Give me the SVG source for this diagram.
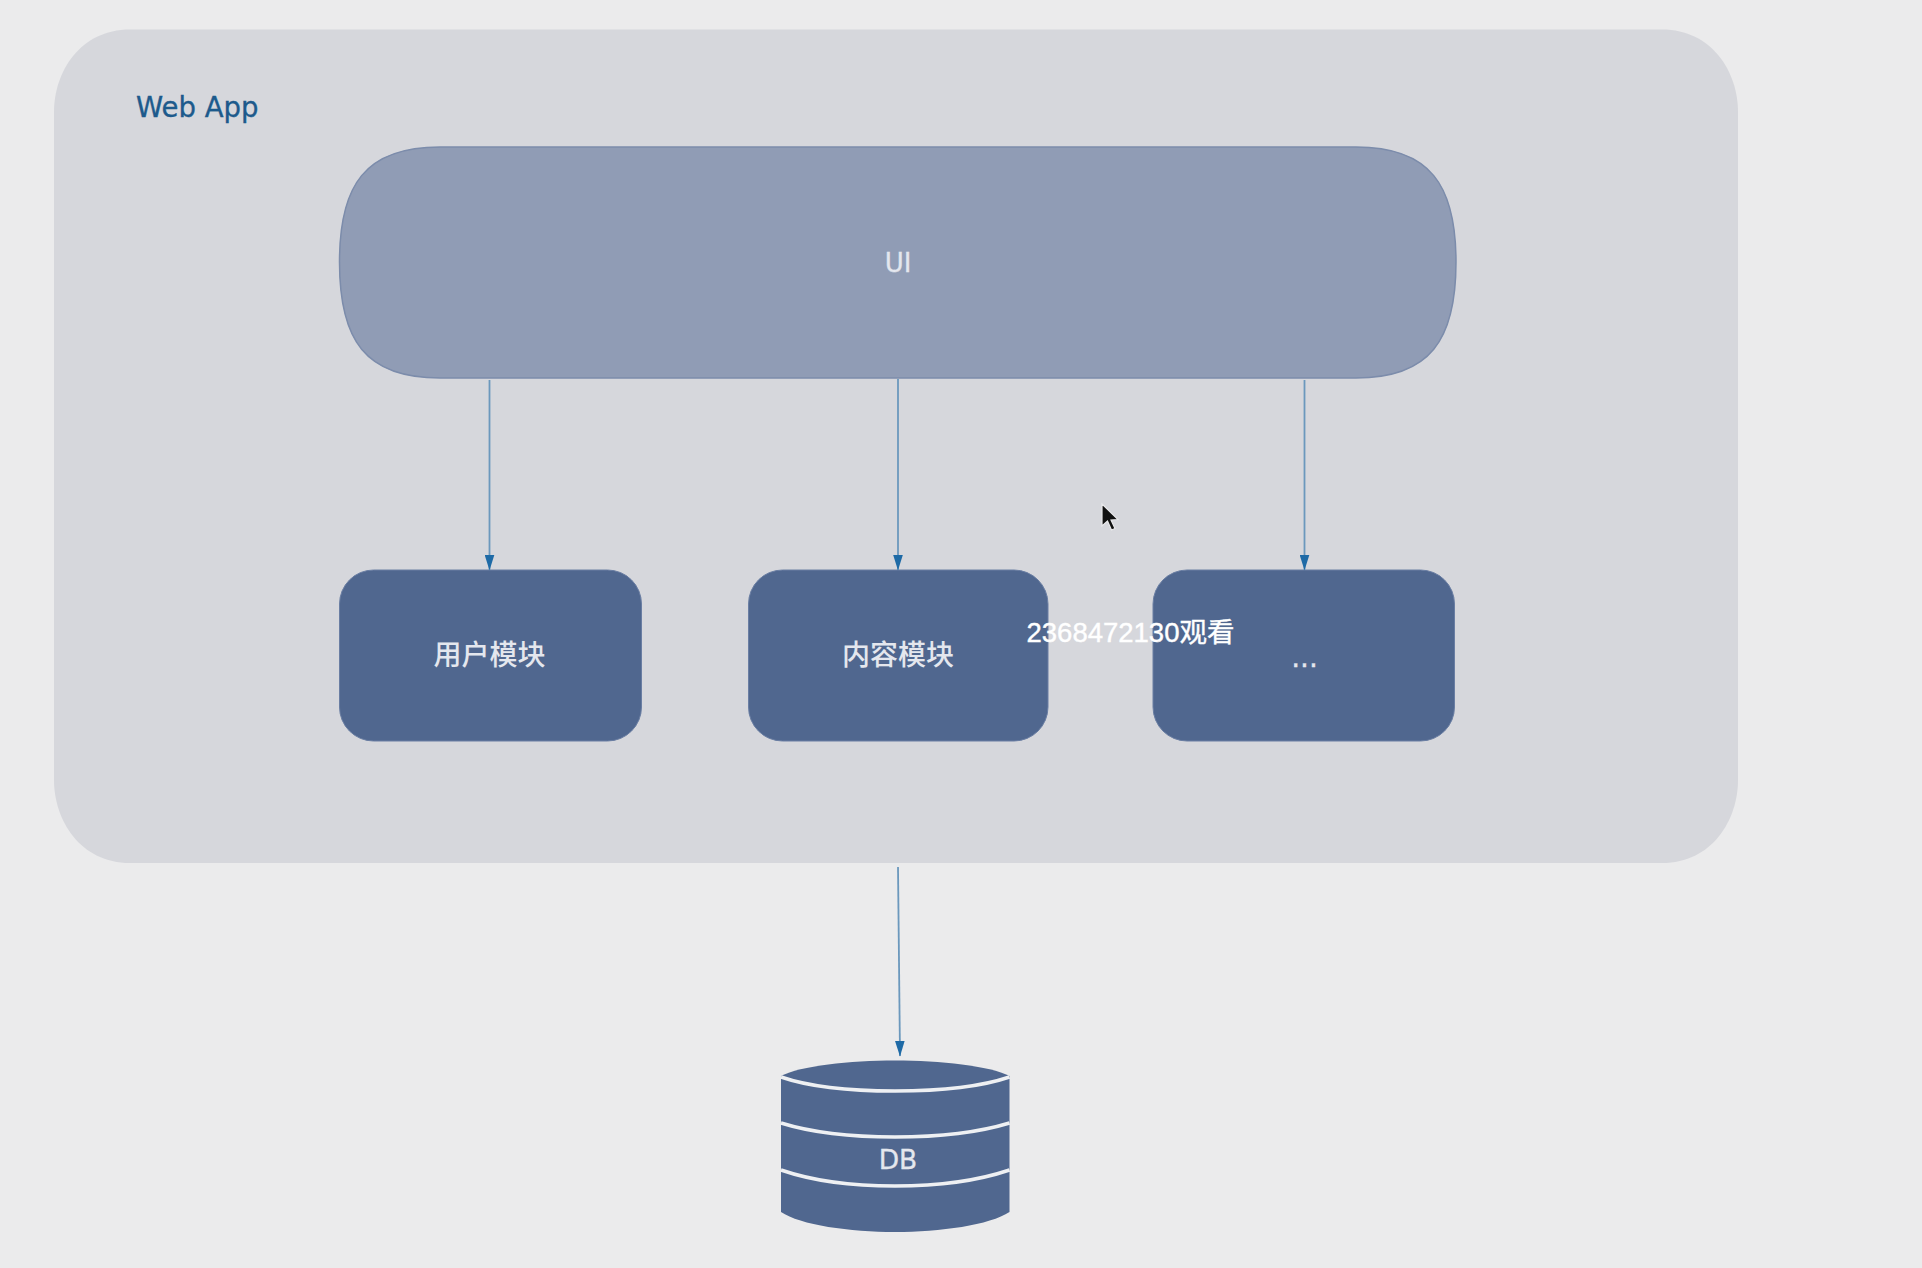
<svg xmlns="http://www.w3.org/2000/svg" width="1922" height="1268" viewBox="0 0 1922 1268">
  <style>
    .lbl { font-family: "DejaVu Sans", "Noto Sans CJK SC", sans-serif; fill: #e4e7ee; text-anchor: middle; stroke: #e4e7ee; stroke-width: 0.3; }
    .cjk { font-family: "Noto Sans CJK SC", sans-serif; font-size: 28px; font-weight: 500; fill: #e4e7ee; text-anchor: middle; }
    .mod { fill: #50678f; stroke: #6a7ea3; stroke-width: 1; }
    .conn { stroke: #6b98bd; stroke-width: 1.8; fill: none; marker-end: url(#arrow); }
    .band { fill: none; stroke: #eef0f3; stroke-width: 3.5; }
  </style>
  <defs>
    <marker id="arrow" markerUnits="userSpaceOnUse" markerWidth="16" markerHeight="10" refX="15" refY="5" orient="auto">
      <path d="M0 0.2 L15.500 5 L0 9.800 Z" fill="#1e6aa6"/>
    </marker>
  </defs>
  <rect width="1922" height="1268" fill="#ebebec"/>

  <g id="web-app">
    <path d="M54 112 C54 72 80 29.500 130 29.500 H1662 C1712 29.500 1738 72 1738 112 V780 C1738 820 1712 863 1662 863 H130 C80 863 54 820 54 780 Z" fill="#d6d7dc"/>
    <text x="136" y="116.500" font-family="'DejaVu Sans', sans-serif" font-size="27.500" fill="#1d5a8c" stroke="#1d5a8c" stroke-width="0.35">Web App</text>
  </g>

  <g id="ui">
    <path d="M440 147 H1356 C1430 147 1456 185 1456 262 C1456 340 1430 378 1356 378 H440 C365 378 339.500 340 339.500 262 C339.500 185 365 147 440 147 Z" fill="#909cb5" stroke="#7c8cab" stroke-width="1.500"/>
    <text class="lbl" x="898" y="272" font-size="26">UI</text>
  </g>

  <g id="user-module">
    <rect class="mod" x="339.500" y="570" width="302" height="171" rx="34"/>
    <text class="cjk" x="489.500" y="665">用户模块</text>
  </g>
  <g id="content-module">
    <rect class="mod" x="748.500" y="570" width="299.500" height="171" rx="34"/>
    <text class="cjk" x="898" y="665">内容模块</text>
  </g>
  <g id="more-module">
    <rect class="mod" x="1153" y="570" width="301.500" height="171" rx="34"/>
    <text class="lbl" x="1304.500" y="667" font-size="28" stroke-width="0.8">...</text>
  </g>

  <g id="db">
    <path d="M781 1076 C800 1066 850 1060.500 895 1060.500 C940 1060.500 990 1066 1009.500 1076 V1212 C990 1225 940 1232 895 1232 C850 1232 800 1225 781 1212 Z" fill="#50678f"/>
    <path class="band" d="M781 1077 C810 1087 850 1091 895 1091 C940 1091 980 1087 1009.500 1077"/>
    <path class="band" d="M781 1123 C810 1132 850 1137 895 1137 C940 1137 980 1132 1009.500 1123"/>
    <path class="band" d="M781 1170 C810 1180 850 1186 895 1186 C940 1186 980 1180 1009.500 1170"/>
    <text class="lbl" x="898" y="1169" font-size="26.500">DB</text>
  </g>

  <g id="connectors">
    <line class="conn" x1="489.500" y1="380" x2="489.500" y2="570"/>
    <line class="conn" x1="898" y1="379" x2="898" y2="570"/>
    <line class="conn" x1="1304.500" y1="380" x2="1304.500" y2="570"/>
    <line class="conn" x1="898" y1="867" x2="900" y2="1056"/>
  </g>

  <g id="overlay">
    <path d="M1102 504 L1102 526 L1107.500 521 L1111.500 530 L1115 528.500 L1111 520 L1118 519.500 Z" fill="#111" stroke="#e8e8ea" stroke-width="1.200"/>
    <text x="1026.500" y="642" font-family="'Liberation Sans', 'Noto Sans CJK SC', sans-serif" font-size="27.500" fill="#ffffff" stroke="#ffffff" stroke-width="0.4">2368472130<tspan font-family="'Noto Sans CJK SC', sans-serif">观看</tspan></text>
  </g>
</svg>
